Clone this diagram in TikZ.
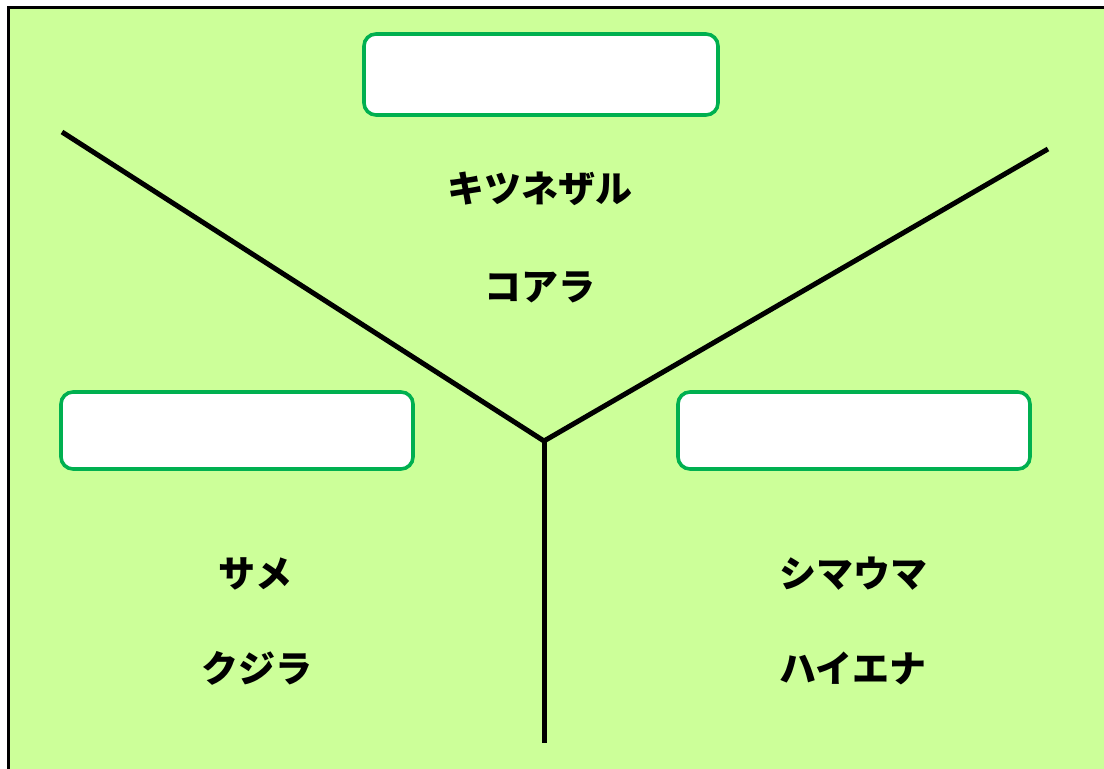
\documentclass[tikz,border=0pt]{standalone}
\usepackage{fontspec}
\newfontfamily\cjk{Noto Sans CJK JP}
\definecolor{meadow}{HTML}{CCFF99}
\definecolor{boxline}{HTML}{00B050}
\tikzset{
  label box/.style={draw=boxline,fill=white,line width=1.8pt,rounded corners=6pt},
  animal/.style={font=\cjk\bfseries\fontsize{18.5}{22}\selectfont,inner sep=0pt},
  branch/.style={line width=2.5pt}
}
\begin{document}
\begin{tikzpicture}[x=0.5pt,y=-0.5pt]
    \useasboundingbox (0,0) rectangle (1104,769);
    \fill[white] (0,0) rectangle (1104,769);
    \begin{scope}
      \clip (0,0) rectangle (1104,769);
      \filldraw[meadow,draw=black,line width=1.5pt] (8,8) rectangle (1120,790);
    \end{scope}

    \draw[label box] (364,34) rectangle (718,115);
    \draw[label box] (61,392) rectangle (413,469);
    \draw[label box] (678,392) rectangle (1030,469);

    \coordinate (hub) at (544,441);
    \coordinate (upleft) at (62,132);
    \coordinate (upright) at (1048,149);
    \coordinate (down) at (544,743);
    \draw[branch] (upleft) -- (hub) -- (upright);
    \draw[branch] (hub) -- (down);

    \node[animal] (lemur) at (540,189) {キツネザル};
    \node[animal] (koala) at (540,287) {コアラ};
    \node[animal] (shark) at (255,574) {サメ};
    \node[animal] (whale) at (257,668) {クジラ};
    \node[animal] (zebra) at (853,574) {シマウマ};
    \node[animal] (hyena) at (853,668) {ハイエナ};
\end{tikzpicture}
\end{document}
